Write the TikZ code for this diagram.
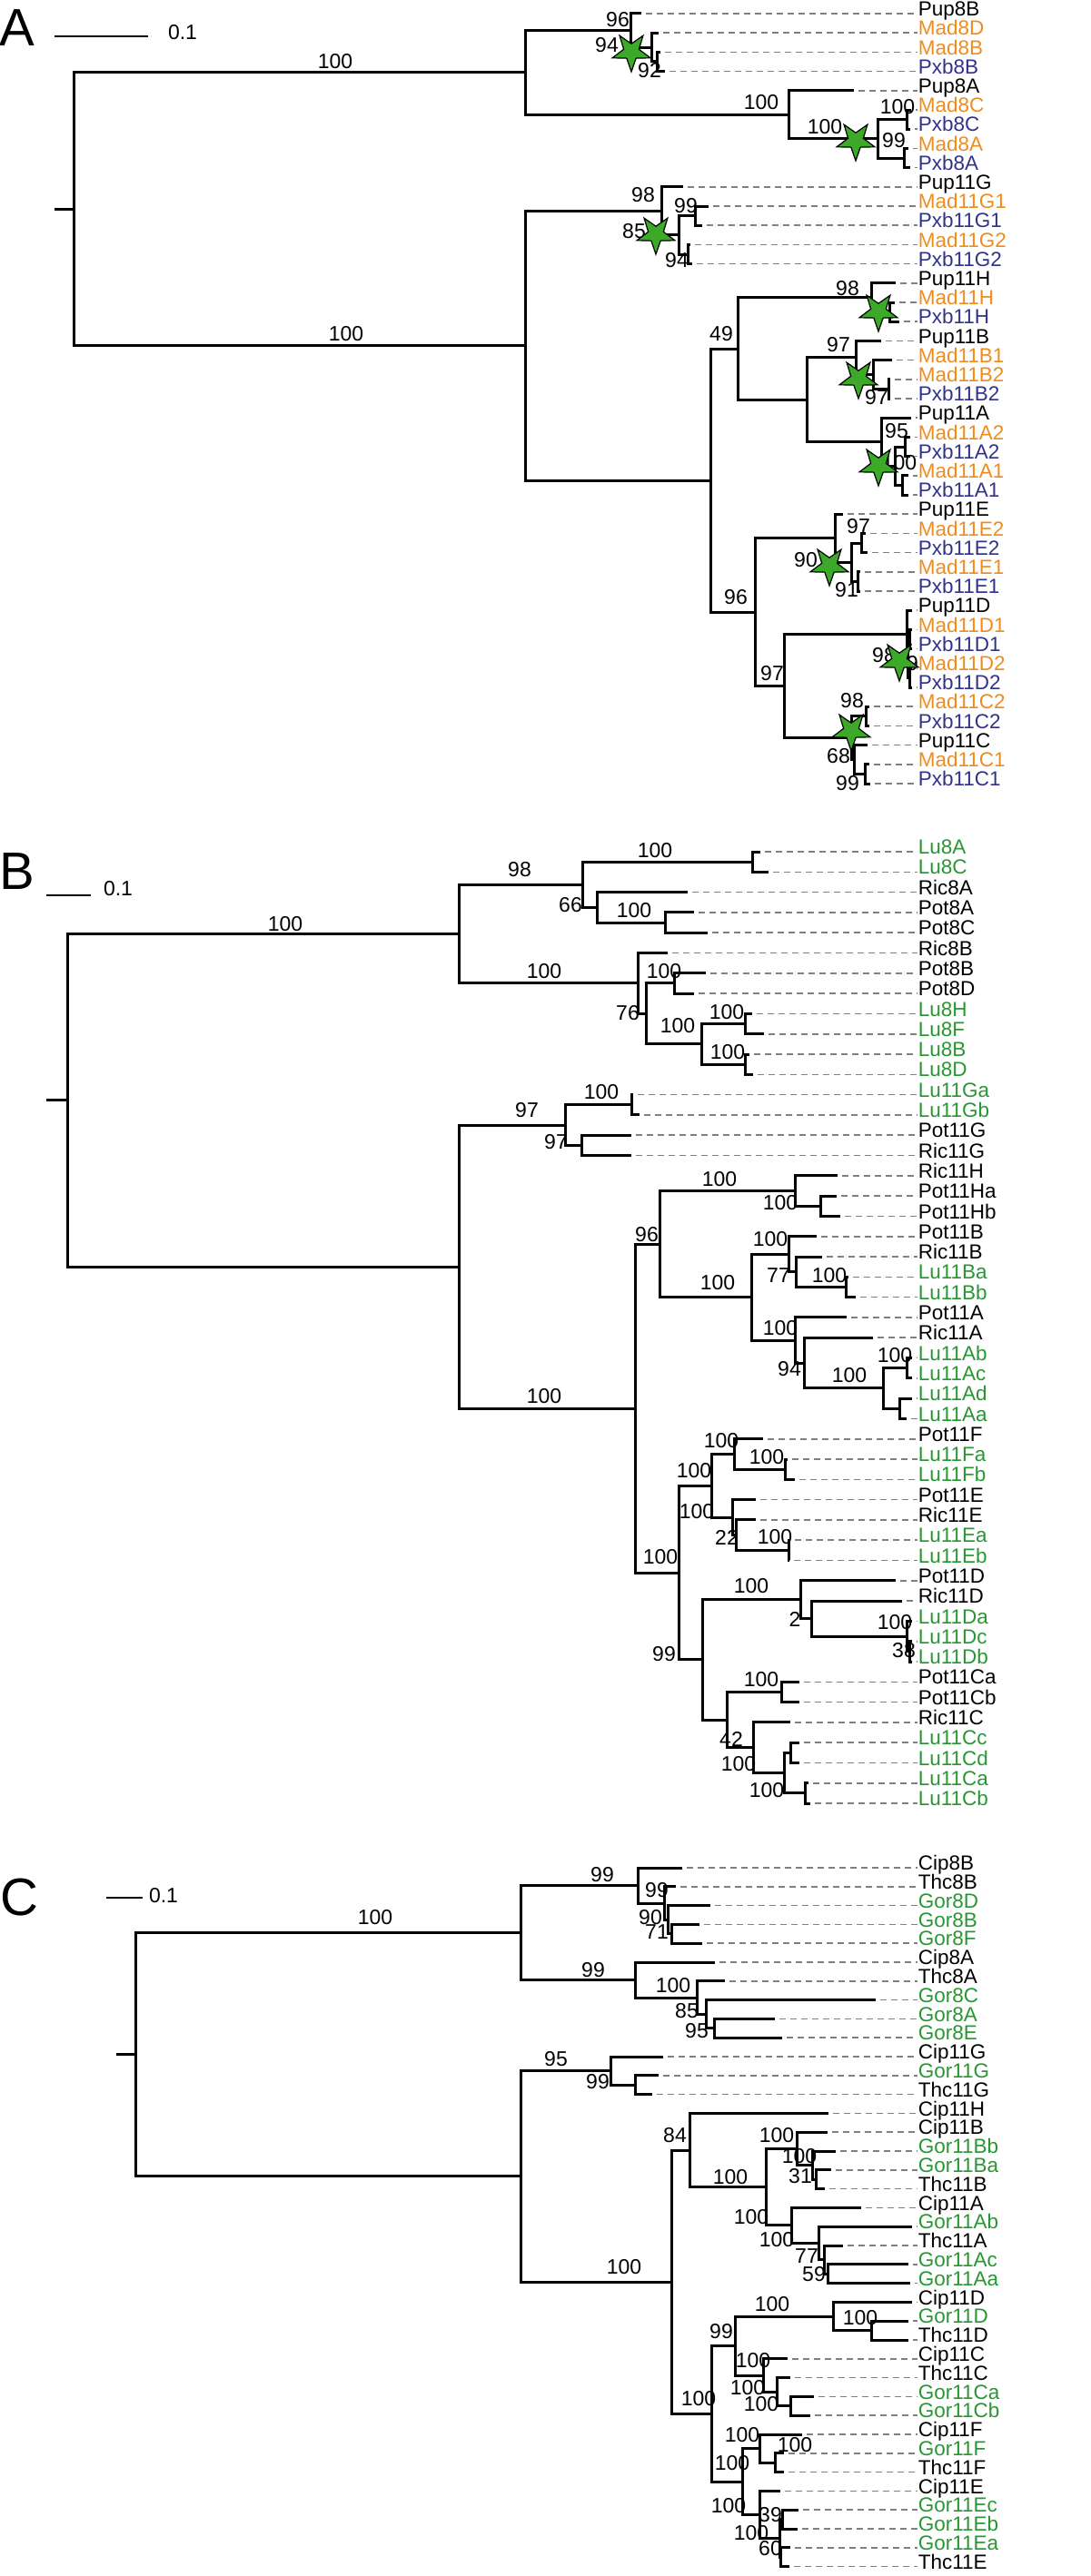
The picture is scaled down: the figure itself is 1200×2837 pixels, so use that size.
\documentclass[tikz,border=0pt]{standalone}
\usepackage{fontspec}
\setmainfont{Liberation Sans}
\usetikzlibrary{calc, shapes.geometric}
\definecolor{madorange}{RGB}{240,140,30}
\definecolor{pxbblue}{RGB}{50,50,140}
\definecolor{leafgreen}{RGB}{40,150,50}
\definecolor{stargreen}{RGB}{60,170,40}
\def\labx{1010}
\newcommand{\clade}[4]{%
% #1 = node, #2 = x, #3 = first child, #4 = last child
\coordinate (tmp) at ($(#3)!0.5!(#4)$);
\coordinate (#1) at (#2,0 |- tmp);
\draw[branch] (#1) |- (#3) (#1) |- (#4);
}

\begin{document}
\begin{tikzpicture}[
    x=1pt, y=-1pt,
    branch/.style={line width=3pt},
    leafdash/.style={line width=1.6pt, black!50, dash pattern=on 7pt off 5pt},
    leaf/.style={anchor=mid west, inner sep=0pt, font=\fontsize{22.5}{24}\selectfont},
    boot/.style={inner sep=0pt, font=\fontsize{23}{25}\selectfont},
    gstar/.style={star, star points=5, star point ratio=2.5, shape border rotate=180,
      draw=black, line width=1.2pt, fill=stargreen, minimum size=44pt, inner sep=0pt},
    panel/.style={font=\fontsize{58}{60}\selectfont, inner sep=0pt},
    scalebar/.style={line width=1.5pt}
]
\useasboundingbox (0,0) rectangle (1200,2837);

% ---------------- panel A ----------------
\node[panel] (pA) at (19,31) {A};
\coordinate (sbA1) at (60,40);
\coordinate (sbA2) at (163,40);
\draw[scalebar] (sbA1) -- (sbA2);
\node[boot] (sbA) at (201,36) {0.1};

\foreach \lab/\tip/\col [count=\i from 0] in {
  Pup8B/706/black, Mad8D/725/madorange, Mad8B/727/madorange, Pxb8B/732/pxbblue,
  Pup8A/940/black, Mad8C/1003/madorange, Pxb8C/1002/pxbblue, Mad8A/1000/madorange,
  Pxb8A/1002/pxbblue, Pup11G/752/black, Mad11G1/780/madorange, Pxb11G1/773/pxbblue,
  Mad11G2/760/madorange, Pxb11G2/762/pxbblue, Pup11H/986/black, Mad11H/985/madorange,
  Pxb11H/990/pxbblue, Pup11B/970/black, Mad11B1/982/madorange, Mad11B2/980/madorange,
  Pxb11B2/980/pxbblue, Pup11A/1003/black, Mad11A2/1002/madorange, Pxb11A2/1002/pxbblue,
  Mad11A1/1000/madorange, Pxb11A1/1000/pxbblue, Pup11E/928/black, Mad11E2/953/madorange,
  Pxb11E2/955/pxbblue, Mad11E1/947/madorange, Pxb11E1/947/pxbblue, Pup11D/1004/black,
  Mad11D1/1004/madorange, Pxb11D1/1004/pxbblue, Mad11D2/1004/madorange, Pxb11D2/1004/pxbblue,
  Mad11C2/957/madorange, Pxb11C2/957/pxbblue, Pup11C/955/black, Mad11C1/957/madorange,
  Pxb11C1/958/pxbblue} {
  \coordinate (\lab) at (\tip, 15+21.2*\i);
  \draw[leafdash] (\lab) ++(5,0) -- (\labx, 15+21.2*\i)
    node[leaf, text=\col] (t\lab) {\lab};
}

\clade{aN3}{723}{Mad8B}{Pxb8B}
\clade{aN2}{717}{Mad8D}{aN3}
\clade{aN1}{694}{Pup8B}{aN2}
\clade{aB3}{998}{Mad8C}{Pxb8C}
\clade{aB4}{995}{Mad8A}{Pxb8A}
\clade{aB2}{966}{aB3}{aB4}
\clade{aB1}{868}{Pup8A}{aB2}
\clade{a8}{578}{aN1}{aB1}
\clade{aG3}{765}{Mad11G1}{Pxb11G1}
\clade{aG4}{757}{Mad11G2}{Pxb11G2}
\clade{aG2}{747}{aG3}{aG4}
\clade{aG1}{728}{Pup11G}{aG2}
\clade{aH1}{979}{Mad11H}{Pxb11H}
\clade{aH}{959}{Pup11H}{aH1}
\clade{aBb2}{978}{Mad11B2}{Pxb11B2}
\clade{aBb1}{961}{Mad11B1}{aBb2}
\clade{aBb}{942}{Pup11B}{aBb1}
\clade{aAa2}{996}{Mad11A2}{Pxb11A2}
\clade{aAa3}{993}{Mad11A1}{Pxb11A1}
\clade{aAa1}{985}{aAa2}{aAa3}
\clade{aAa}{970}{Pup11A}{aAa1}
\clade{aBA}{888}{aBb}{aAa}
\clade{aHBA}{812}{aH}{aBA}
\clade{aE2}{948}{Mad11E2}{Pxb11E2}
\clade{aE3}{944}{Mad11E1}{Pxb11E1}
\clade{aE1}{937}{aE2}{aE3}
\clade{aE}{919}{Pup11E}{aE1}
\clade{aD2}{1001}{Mad11D1}{Pxb11D1}
\clade{aD3}{1001}{Mad11D2}{Pxb11D2}
\clade{aD1}{999}{aD2}{aD3}
\clade{aD}{998}{Pup11D}{aD1}
\clade{aC1}{953}{Mad11C2}{Pxb11C2}
\clade{aC3}{952}{Mad11C1}{Pxb11C1}
\clade{aC2}{940}{Pup11C}{aC3}
\clade{aC}{937}{aC1}{aC2}
\clade{aDC}{863}{aD}{aC}
\clade{aY}{831}{aE}{aDC}
\clade{aX}{782}{aHBA}{aY}
\clade{a11}{578}{aG1}{aX}
\clade{aR}{81}{a8}{a11}
\coordinate (aStub) at (60,0 |- aR);
\draw[branch] (aR) -- (aStub);

\foreach \bx/\by/\bv [count=\i] in {
  369/68/100, 381/368/100, 680/22/96, 668/50/94, 715/78/92, 838/113/100,
  908/140/100, 988/118/100, 984/155/99, 708/215/98, 755/227/99, 698/255/85,
  745/287/94, 794/368/49, 933/318/98, 923/380/97, 965/438/97, 987/475/95,
  990/510/100, 810/658/96, 945/580/97, 887/617/90, 932/650/91, 850/742/97,
  973/722/98, 998/731/99, 938/772/98, 923/833/68, 933/863/99}
  \node[boot] (bA\i) at (\bx,\by) {\bv};

\foreach \sx/\sy [count=\i] in {
  695/57, 942/155, 722/258, 967/343, 945/417, 967/513, 913/623, 990/728, 937/805}
  \node[gstar] (sA\i) at (\sx,\sy) {};

% ---------------- panel B ----------------
\node[panel] (pB) at (19,960) {B};
\coordinate (sbB1) at (51,986);
\coordinate (sbB2) at (100,986);
\draw[scalebar] (sbB1) -- (sbB2);
\node[boot] (sbB) at (130,979) {0.1};

\foreach \lab/\tip/\col [count=\i from 0] in {
  Lu8A/837/leafgreen, Lu8C/846/leafgreen, Ric8A/757/black, Pot8A/764/black,
  Pot8C/779/black, Ric8B/735/black, Pot8B/777/black, Pot8D/764/black,
  Lu8H/828/leafgreen, Lu8F/841/leafgreen, Lu8B/825/leafgreen, Lu8D/829/leafgreen,
  Lu11Ga/697/leafgreen, Lu11Gb/704/leafgreen, Pot11G/695/black, Ric11G/695/black,
  Ric11H/922/black, Pot11Ha/921/black, Pot11Hb/925/black, Pot11B/899/black,
  Ric11B/905/black, Lu11Ba/934/leafgreen, Lu11Bb/942/leafgreen, Pot11A/932/black,
  Ric11A/961/black, Lu11Ab/1004/leafgreen, Lu11Ac/1004/leafgreen, Lu11Ad/1004/leafgreen,
  Lu11Aa/998/leafgreen, Pot11F/840/black, Lu11Fa/867/leafgreen, Lu11Fb/875/leafgreen,
  Pot11E/832/black, Ric11E/832/black, Lu11Ea/870/leafgreen, Lu11Eb/869/leafgreen,
  Pot11D/986/black, Ric11D/993/black, Lu11Da/1004/leafgreen, Lu11Dc/1004/leafgreen,
  Lu11Db/1004/leafgreen, Pot11Ca/880/black, Pot11Cb/880/black, Ric11C/870/black,
  Lu11Cc/880/leafgreen, Lu11Cd/880/leafgreen, Lu11Ca/890/leafgreen, Lu11Cb/892/leafgreen} {
  \coordinate (\lab) at (\tip, 938+22.3*\i);
  \draw[leafdash] (\lab) ++(5,0) -- (\labx, 938+22.3*\i)
    node[leaf, text=\col] (t\lab) {\lab};
}

\clade{b8b}{828}{Lu8A}{Lu8C}
\clade{b8d}{732}{Pot8A}{Pot8C}
\clade{b8c}{657}{Ric8A}{b8d}
\clade{b8a}{641}{b8b}{b8c}
\clade{b8g}{742}{Pot8B}{Pot8D}
\clade{b8i}{820}{Lu8H}{Lu8F}
\clade{b8j}{820}{Lu8B}{Lu8D}
\clade{b8h}{772}{b8i}{b8j}
\clade{b8f}{711}{b8g}{b8h}
\clade{b8e}{702}{Ric8B}{b8f}
\clade{b8}{505}{b8a}{b8e}
\clade{bGa}{695}{Lu11Ga}{Lu11Gb}
\clade{bGb}{640}{Pot11G}{Ric11G}
\clade{bG}{622}{bGa}{bGb}
\clade{bH1}{903}{Pot11Ha}{Pot11Hb}
\clade{bH}{875}{Ric11H}{bH1}
\clade{bB2}{931}{Lu11Ba}{Lu11Bb}
\clade{bB1}{876}{Ric11B}{bB2}
\clade{bB}{868}{Pot11B}{bB1}
\clade{bA3}{998}{Lu11Ab}{Lu11Ac}
\clade{bA4}{990}{Lu11Ad}{Lu11Aa}
\clade{bA2}{972}{bA3}{bA4}
\clade{bA1}{885}{Ric11A}{bA2}
\clade{bA}{875}{Pot11A}{bA1}
\clade{bBA}{827}{bB}{bA}
\clade{bHBA}{726}{bH}{bBA}
\clade{bF1}{864}{Lu11Fa}{Lu11Fb}
\clade{bF}{808}{Pot11F}{bF1}
\clade{bE2}{868}{Lu11Ea}{Lu11Eb}
\clade{bE1}{810}{Ric11E}{bE2}
\clade{bE}{806}{Pot11E}{bE1}
\clade{bFE}{783}{bF}{bE}
\clade{bD3}{1001}{Lu11Dc}{Lu11Db}
\clade{bD2}{998}{Lu11Da}{bD3}
\clade{bD1}{893}{Ric11D}{bD2}
\clade{bD}{881}{Pot11D}{bD1}
\clade{bCa}{860}{Pot11Ca}{Pot11Cb}
\clade{bC3}{870}{Lu11Cc}{Lu11Cd}
\clade{bC4}{886}{Lu11Ca}{Lu11Cb}
\clade{bC2}{863}{bC3}{bC4}
\clade{bC1}{829}{Ric11C}{bC2}
\clade{bC}{800}{bCa}{bC1}
\clade{bDC}{773}{bD}{bC}
\clade{bEFD}{747}{bFE}{bDC}
\clade{bR}{699}{bHBA}{bEFD}
\clade{b11}{505}{bG}{bR}
\clade{bRoot}{74}{b8}{b11}
\coordinate (bStub) at (51,0 |- bRoot);
\draw[branch] (bRoot) -- (bStub);

\foreach \bx/\by/\bv [count=\i] in {
  314/1018/100, 572/958/98, 721/937/100, 628/997/66, 698/1003/100, 599/1070/100,
  691/1116/76, 731/1070/100, 746/1130/100, 800/1115/100, 801/1159/100,
  580/1223/97, 662/1203/100, 612/1258/97, 599/1538/100, 712/1360/96, 792/1299/100,
  859/1325/100, 790/1413/100, 848/1365/100, 857/1405/77, 913/1405/100, 859/1463/100,
  869/1508/94, 935/1515/100, 985/1493/100, 727/1715/100, 731/1822/99, 764/1620/100,
  794/1587/100, 844/1605/100, 767/1665/100, 800/1693/22, 853/1693/100, 827/1747/100,
  875/1783/2, 985/1787/100, 995/1818/38, 838/1850/100, 805/1915/42, 813/1943/100,
  844/1972/100}
  \node[boot] (bB\i) at (\bx,\by) {\bv};

% ---------------- panel C ----------------
\node[panel] (pC) at (21,2090) {C};
\coordinate (sbC1) at (117,2090);
\coordinate (sbC2) at (157,2090);
\draw[scalebar] (sbC1) -- (sbC2);
\node[boot] (sbC) at (180,2088) {0.1};

\foreach \lab/\tip/\col [count=\i from 0] in {
  Cip8B/751/black, Thc8B/744/black, Gor8D/782/leafgreen, Gor8B/770/leafgreen,
  Gor8F/773/leafgreen, Cip8A/787/black, Thc8A/798/black, Gor8C/964/leafgreen,
  Gor8A/853/leafgreen, Gor8E/861/leafgreen, Cip11G/730/black, Gor11G/725/leafgreen,
  Thc11G/718/black, Cip11H/912/black, Cip11B/911/black, Gor11Bb/920/leafgreen,
  Gor11Ba/915/leafgreen, Thc11B/908/black, Cip11A/948/black, Gor11Ab/1004/leafgreen,
  Thc11A/928/black, Gor11Ac/1000/leafgreen, Gor11Aa/1002/leafgreen, Cip11D/1004/black,
  Gor11D/1000/leafgreen, Thc11D/1000/black, Cip11C/867/black, Thc11C/870/black,
  Gor11Ca/896/leafgreen, Gor11Cb/892/leafgreen, Cip11F/883/black, Gor11F/863/leafgreen,
  Thc11F/863/black, Cip11E/859/black, Gor11Ec/879/leafgreen, Gor11Eb/878/leafgreen,
  Gor11Ea/870/leafgreen, Thc11E/869/black} {
  \coordinate (\lab) at (\tip, 2057+20.8*\i);
  \draw[leafdash] (\lab) ++(5,0) -- (\labx, 2057+20.8*\i)
    node[leaf, text=\col] (t\lab) {\lab};
}

\clade{c8B3}{739}{Gor8B}{Gor8F}
\clade{c8B2}{735}{Gor8D}{c8B3}
\clade{c8B1}{731}{Thc8B}{c8B2}
\clade{c8B}{702}{Cip8B}{c8B1}
\clade{c8A3}{786}{Gor8A}{Gor8E}
\clade{c8A2}{777}{Gor8C}{c8A3}
\clade{c8A1}{767}{Thc8A}{c8A2}
\clade{c8A}{699}{Cip8A}{c8A1}
\clade{c8}{573}{c8B}{c8A}
\clade{cG1}{699}{Gor11G}{Thc11G}
\clade{cG}{672}{Cip11G}{cG1}
\clade{cB2}{898}{Gor11Ba}{Thc11B}
\clade{cB1}{894}{Gor11Bb}{cB2}
\clade{cB}{877}{Cip11B}{cB1}
\clade{cA3}{911}{Gor11Ac}{Gor11Aa}
\clade{cA2}{907}{Thc11A}{cA3}
\clade{cA1}{901}{Gor11Ab}{cA2}
\clade{cA}{871}{Cip11A}{cA1}
\clade{cBA}{843}{cB}{cA}
\clade{cHBA}{759}{Cip11H}{cBA}
\clade{cD1}{959}{Gor11D}{Thc11D}
\clade{cD}{917}{Cip11D}{cD1}
\clade{cC2}{870}{Gor11Ca}{Gor11Cb}
\clade{cC1}{855}{Thc11C}{cC2}
\clade{cC}{840}{Cip11C}{cC1}
\clade{cDC}{809}{cD}{cC}
\clade{cF1}{853}{Gor11F}{Thc11F}
\clade{cF}{836}{Cip11F}{cF1}
\clade{cE2}{861}{Gor11Ec}{Gor11Eb}
\clade{cE3}{859}{Gor11Ea}{Thc11E}
\clade{cE1}{858}{cE2}{cE3}
\clade{cE}{836}{Cip11E}{cE1}
\clade{cFE}{817}{cF}{cE}
\clade{cDCFE}{783}{cDC}{cFE}
\clade{cR}{739}{cHBA}{cDCFE}
\clade{c11}{573}{cG}{cR}
\clade{cRoot}{149}{c8}{c11}
\coordinate (cStub) at (128,0 |- cRoot);
\draw[branch] (cRoot) -- (cStub);

\foreach \bx/\by/\bv [count=\i] in {
  413/2112/100, 663/2065/99, 723/2082/99, 716/2112/90, 723/2128/71, 653/2170/99,
  741/2187/100, 756/2215/85, 767/2237/95, 612/2268/95, 658/2293/99, 687/2497/100,
  743/2352/84, 804/2398/100, 855/2352/100, 880/2375/100, 881/2397/31, 827/2442/100,
  855/2467/100, 888/2485/77, 896/2505/59, 769/2642/100, 794/2568/99, 850/2538/100,
  947/2553/100, 829/2600/100, 823/2630/100, 838/2648/100, 806/2713/100, 817/2682/100,
  875/2693/100, 802/2760/100, 827/2790/100, 848/2770/39, 848/2807/60}
  \node[boot] (bC\i) at (\bx,\by) {\bv};
\end{tikzpicture}
\end{document}
